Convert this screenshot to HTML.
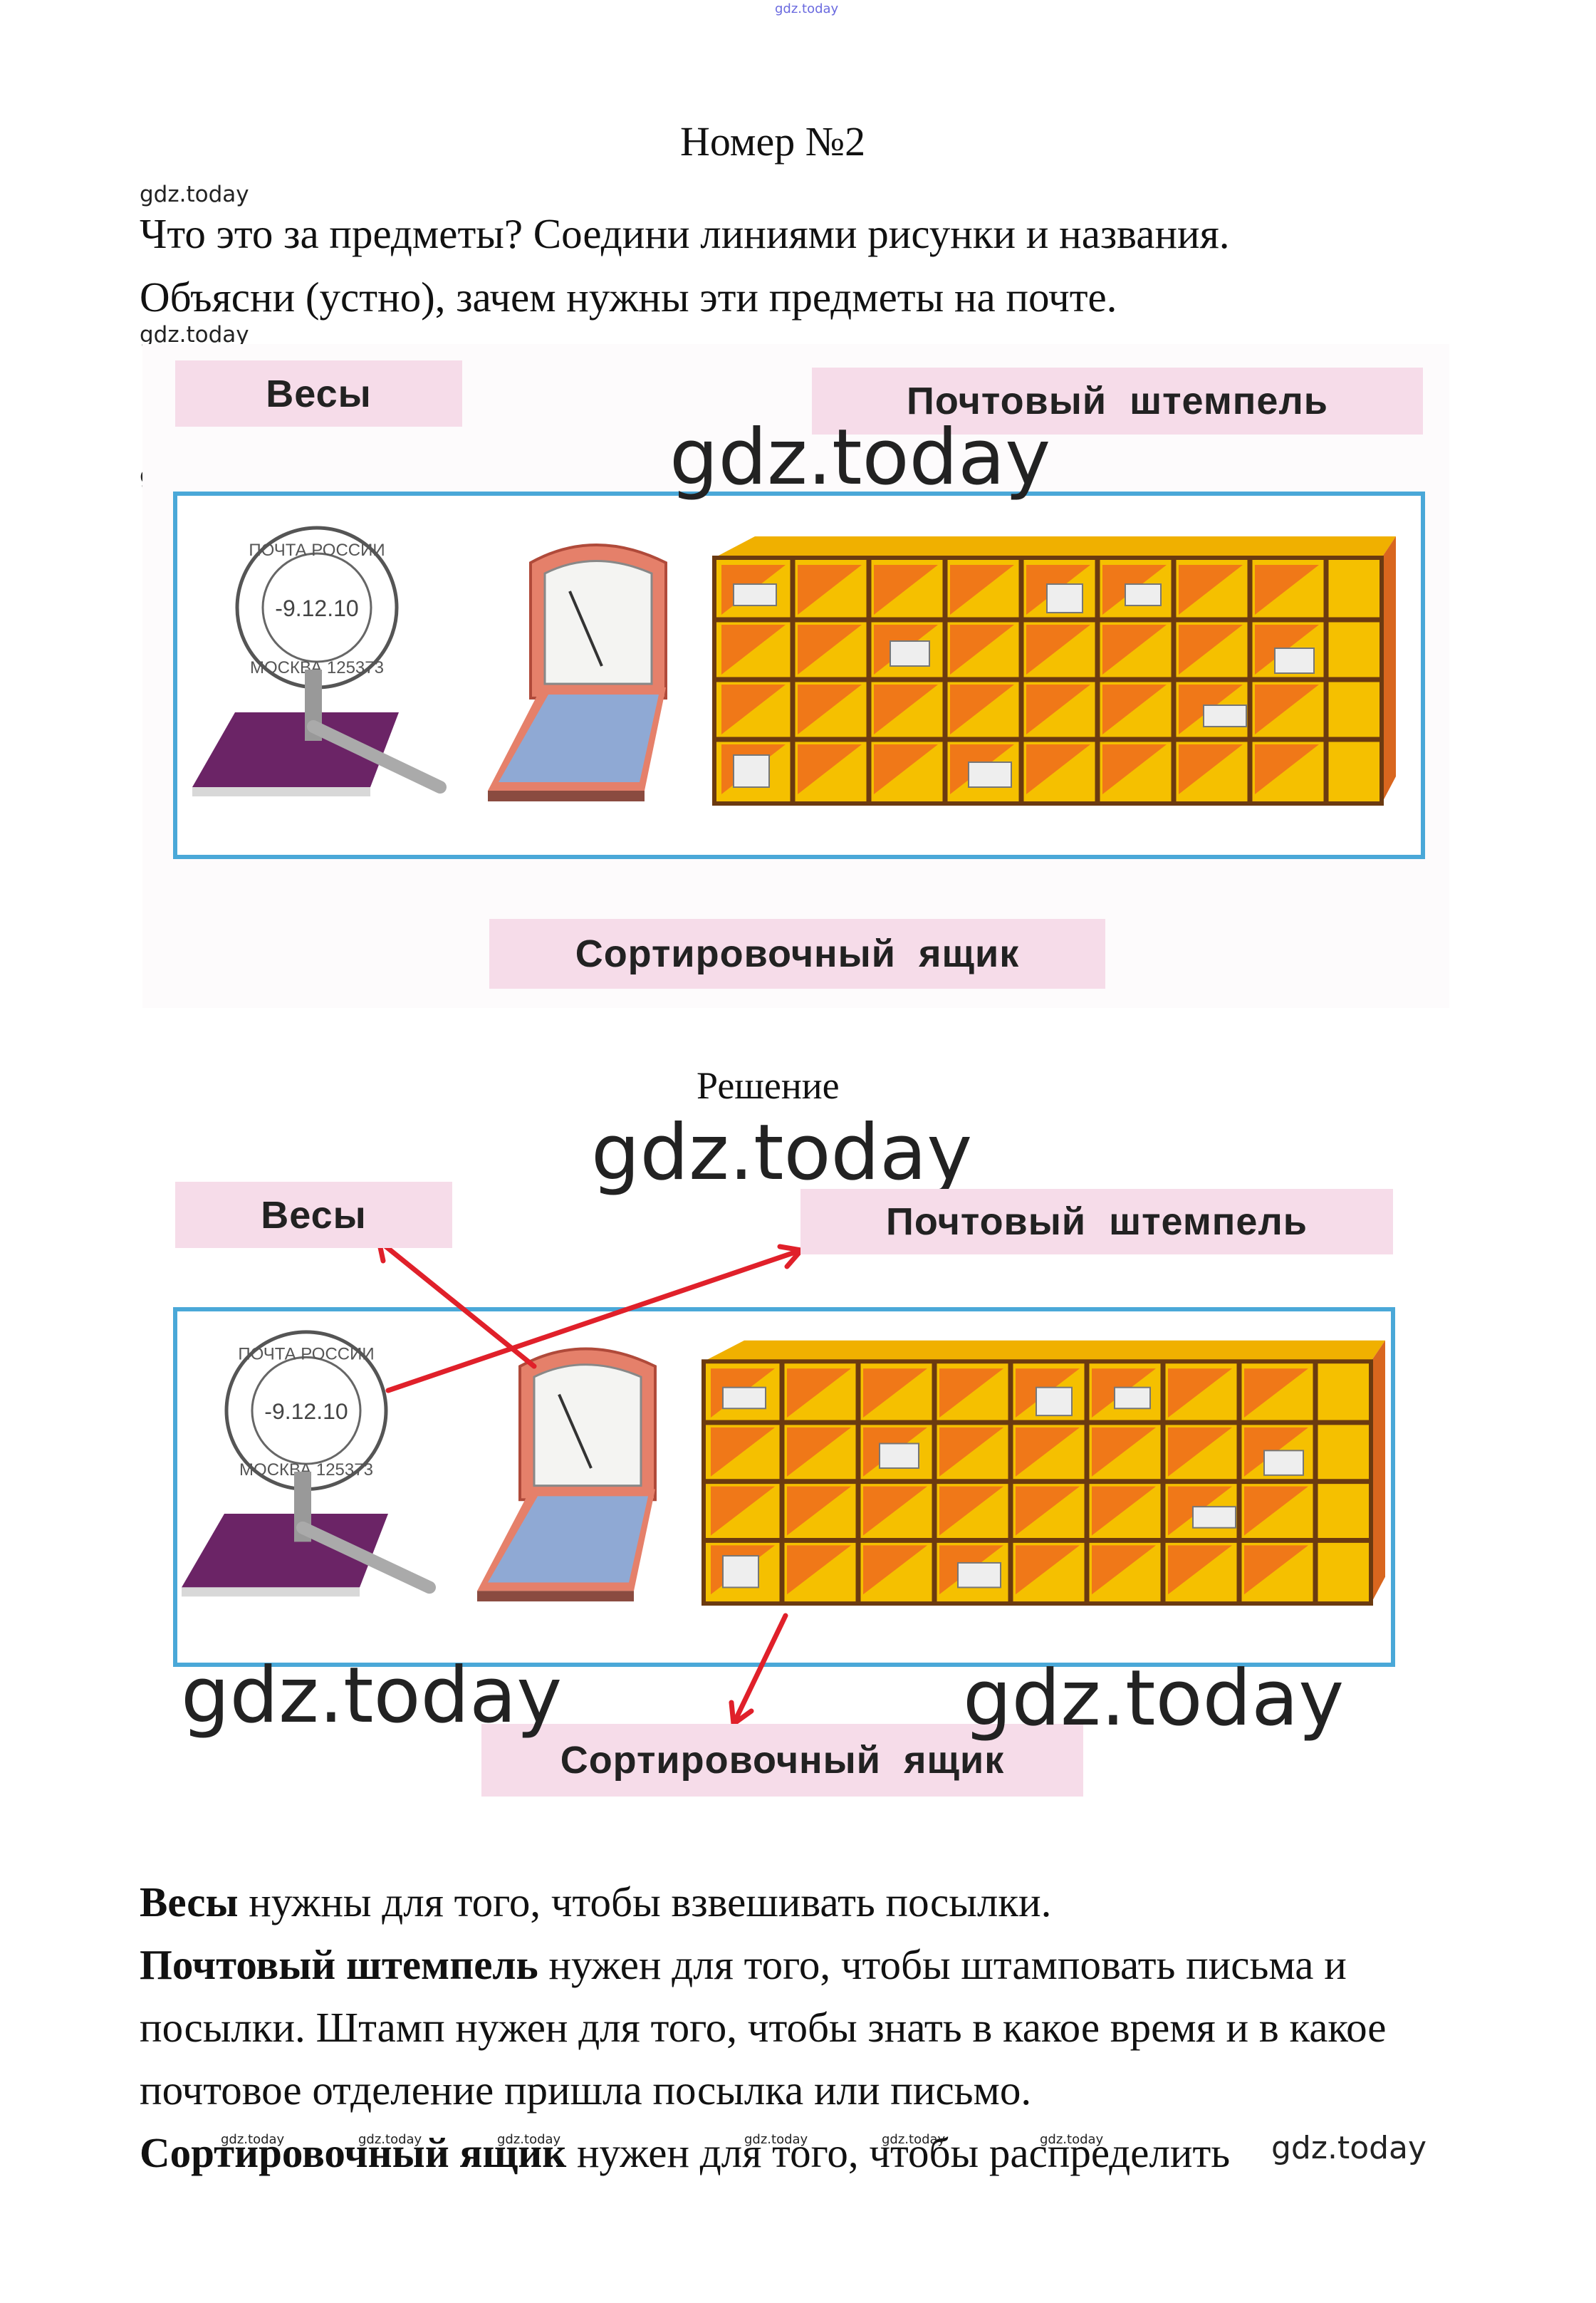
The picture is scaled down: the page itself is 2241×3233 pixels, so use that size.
<!DOCTYPE html>
<html><head><meta charset="utf-8">
<style>
html,body{margin:0;padding:0;background:#fff;}
body{width:2241px;height:3233px;position:relative;overflow:hidden;font-family:"Liberation Serif",serif;color:#111;}
.t{position:absolute;white-space:nowrap;}
.wm{font-family:"DejaVu Sans","Liberation Sans",sans-serif;color:#222;}
.lbl{position:absolute;background:#f6dce9;font-family:"Liberation Sans",sans-serif;font-weight:bold;font-size:54px;color:#222;display:flex;align-items:center;justify-content:center;letter-spacing:1px;}
svg{position:absolute;left:0;top:0;}
</style></head><body>
<div class="t wm" style="left:1088px;top:2px;font-size:18px;color:#6a6adf;">gdz.today</div>
<div class="t" style="left:955px;top:165px;font-size:58px;">Номер №2</div>
<div class="t wm" style="left:196px;top:255px;font-size:31px;">gdz.today</div>
<div class="t" style="left:196px;top:294px;font-size:59px;">Что это за предметы? Соедини линиями рисунки и названия.</div>
<div class="t" style="left:196px;top:383px;font-size:59px;">Объясни (устно), зачем нужны эти предметы на почте.</div>
<div class="t wm" style="left:196px;top:452px;font-size:31px;">gdz.today</div>
<div class="t wm" style="left:196px;top:650px;font-size:31px;">gdz.today</div>

<div style="position:absolute;left:200px;top:483px;width:1835px;height:932px;background:#fdfbfc;"></div>

<svg width="2241" height="3233" viewBox="0 0 2241 3233">
<defs>
<g id="ill">
 <circle cx="445" cy="853" r="112" fill="#fff" stroke="#555" stroke-width="5"/>
 <circle cx="445" cy="853" r="76" fill="none" stroke="#666" stroke-width="3"/>
 <text x="445" y="865" font-family="Liberation Sans" font-size="32" text-anchor="middle" fill="#444">-9.12.10</text>
 <text x="445" y="780" font-family="Liberation Sans" font-size="24" text-anchor="middle" fill="#555">ПОЧТА РОССИИ</text>
 <text x="445" y="945" font-family="Liberation Sans" font-size="24" text-anchor="middle" fill="#555">МОСКВА 125373</text>
 <polygon points="330,1000 560,1000 520,1105 270,1105" fill="#6b2466"/>
 <polygon points="270,1105 520,1105 520,1118 270,1118" fill="#d8d8d8"/>
 <rect x="428" y="940" width="24" height="100" fill="#999"/>
 <line x1="440" y1="1020" x2="618" y2="1105" stroke="#aaa" stroke-width="18" stroke-linecap="round"/>
 <path d="M745,790 Q835,740 935,790 L935,980 L745,980 Z" fill="#e5806a" stroke="#b04a3a" stroke-width="4"/>
 <path d="M765,805 Q835,770 915,805 L915,960 L765,960 Z" fill="#f4f4f2" stroke="#888" stroke-width="3"/>
 <line x1="800" y1="830" x2="845" y2="935" stroke="#333" stroke-width="4"/>
 <polygon points="760,965 935,965 905,1110 685,1110" fill="#e5806a"/>
 <polygon points="770,975 925,975 898,1098 700,1098" fill="#8fa9d4"/>
 <polygon points="685,1110 905,1110 905,1125 685,1125" fill="#8a4b40"/>
 <polygon points="1003,783 1060,753 1960,753 1940,783" fill="#f0b000"/>
 <polygon points="1940,783 1960,753 1960,1090 1940,1128" fill="#d9661e"/>
 <rect x="1003" y="783" width="937" height="345" fill="#f5c000"/>
 <g fill="#f07818">
  <polygon points="1013,793 1103,793 1013,863"/><polygon points="1120,793 1210,793 1120,863"/><polygon points="1227,793 1317,793 1227,863"/><polygon points="1334,793 1424,793 1334,863"/><polygon points="1441,793 1531,793 1441,863"/><polygon points="1548,793 1638,793 1548,863"/><polygon points="1655,793 1745,793 1655,863"/><polygon points="1762,793 1852,793 1762,863"/>
  <polygon points="1013,877 1103,877 1013,947"/><polygon points="1120,877 1210,877 1120,947"/><polygon points="1227,877 1317,877 1227,947"/><polygon points="1334,877 1424,877 1334,947"/><polygon points="1441,877 1531,877 1441,947"/><polygon points="1548,877 1638,877 1548,947"/><polygon points="1655,877 1745,877 1655,947"/><polygon points="1762,877 1852,877 1762,947"/>
  <polygon points="1013,961 1103,961 1013,1031"/><polygon points="1120,961 1210,961 1120,1031"/><polygon points="1227,961 1317,961 1227,1031"/><polygon points="1334,961 1424,961 1334,1031"/><polygon points="1441,961 1531,961 1441,1031"/><polygon points="1548,961 1638,961 1548,1031"/><polygon points="1655,961 1745,961 1655,1031"/><polygon points="1762,961 1852,961 1762,1031"/>
  <polygon points="1013,1045 1103,1045 1013,1115"/><polygon points="1120,1045 1210,1045 1120,1115"/><polygon points="1227,1045 1317,1045 1227,1115"/><polygon points="1334,1045 1424,1045 1334,1115"/><polygon points="1441,1045 1531,1045 1441,1115"/><polygon points="1548,1045 1638,1045 1548,1115"/><polygon points="1655,1045 1745,1045 1655,1115"/><polygon points="1762,1045 1852,1045 1762,1115"/>
 </g>
 <g stroke="#6b3a10" stroke-width="7">
  <line x1="1003" y1="870" x2="1940" y2="870"/><line x1="1003" y1="954" x2="1940" y2="954"/><line x1="1003" y1="1038" x2="1940" y2="1038"/>
  <line x1="1113" y1="783" x2="1113" y2="1128"/><line x1="1220" y1="783" x2="1220" y2="1128"/><line x1="1327" y1="783" x2="1327" y2="1128"/><line x1="1434" y1="783" x2="1434" y2="1128"/><line x1="1541" y1="783" x2="1541" y2="1128"/><line x1="1648" y1="783" x2="1648" y2="1128"/><line x1="1755" y1="783" x2="1755" y2="1128"/><line x1="1862" y1="783" x2="1862" y2="1128"/>
 </g>
 <rect x="1003" y="783" width="937" height="345" fill="none" stroke="#6b3a10" stroke-width="6"/>
 <g fill="#eee" stroke="#777" stroke-width="2">
  <rect x="1030" y="820" width="60" height="30"/><rect x="1250" y="900" width="55" height="35"/><rect x="1580" y="820" width="50" height="30"/><rect x="1690" y="990" width="60" height="30"/><rect x="1360" y="1070" width="60" height="35"/><rect x="1790" y="910" width="55" height="35"/><rect x="1470" y="820" width="50" height="40"/><rect x="1030" y="1060" width="50" height="45"/>
 </g>
</g>
</defs>

<rect x="246" y="693" width="1752" height="510" fill="#fff" stroke="#4aa8d8" stroke-width="6"/>
<use href="#ill"/>
<rect x="246" y="1838" width="1710" height="499" fill="#fff" stroke="#4aa8d8" stroke-width="6"/>
<g transform="translate(-15,1140) scale(1,0.985)"><use href="#ill"/></g>

<g stroke="#e0202a" stroke-width="7" fill="none" stroke-linecap="round">
 <line x1="750" y1="1918" x2="532" y2="1742"/>
 <polyline points="560,1744 532,1742 538,1770"/>
 <line x1="545" y1="1952" x2="1125" y2="1755"/>
 <polyline points="1095,1750 1125,1755 1105,1778"/>
 <line x1="1103" y1="2268" x2="1030" y2="2420"/>
 <polyline points="1027,2390 1030,2420 1055,2402"/>
</g>
</svg>

<div class="lbl" style="left:246px;top:506px;width:403px;height:93px;">Весы</div>
<div class="lbl" style="left:1140px;top:516px;width:858px;height:94px;">Почтовый&nbsp; штемпель</div>
<div class="t wm" style="left:940px;top:580px;font-size:108px;">gdz.today</div>
<div class="lbl" style="left:687px;top:1290px;width:865px;height:98px;">Сортировочный&nbsp; ящик</div>

<div class="t" style="left:978px;top:1493px;font-size:54px;">Решение</div>
<div class="t wm" style="left:830px;top:1556px;font-size:108px;">gdz.today</div>
<div class="lbl" style="left:246px;top:1659px;width:389px;height:93px;">Весы</div>
<div class="lbl" style="left:1124px;top:1669px;width:832px;height:92px;">Почтовый&nbsp; штемпель</div>
<div class="lbl" style="left:676px;top:2420px;width:845px;height:102px;">Сортировочный&nbsp; ящик</div>
<div class="t wm" style="left:254px;top:2318px;font-size:108px;">gdz.today</div>
<div class="t wm" style="left:1352px;top:2322px;font-size:108px;">gdz.today</div>

<div class="t" style="left:196px;top:2636px;font-size:59px;"><b>Весы</b> нужны для того, чтобы взвешивать посылки.</div>
<div class="t" style="left:196px;top:2724px;font-size:59px;"><b>Почтовый штемпель</b> нужен для того, чтобы штамповать письма и</div>
<div class="t" style="left:196px;top:2812px;font-size:59px;">посылки. Штамп нужен для того, чтобы знать в какое время и в какое</div>
<div class="t" style="left:196px;top:2900px;font-size:59px;">почтовое отделение пришла посылка или письмо.</div>
<div class="t" style="left:196px;top:2988px;font-size:59px;"><b>Сортировочный ящик</b> нужен для того, чтобы распределить</div>
<div class="t wm" style="left:1785px;top:2990px;font-size:44px;">gdz.today</div>
<div class="t wm" style="left:310px;top:2993px;font-size:18px;">gdz.today</div>
<div class="t wm" style="left:503px;top:2993px;font-size:18px;">gdz.today</div>
<div class="t wm" style="left:698px;top:2993px;font-size:18px;">gdz.today</div>
<div class="t wm" style="left:1045px;top:2993px;font-size:18px;">gdz.today</div>
<div class="t wm" style="left:1238px;top:2993px;font-size:18px;">gdz.today</div>
<div class="t wm" style="left:1460px;top:2993px;font-size:18px;">gdz.today</div>
</body></html>
